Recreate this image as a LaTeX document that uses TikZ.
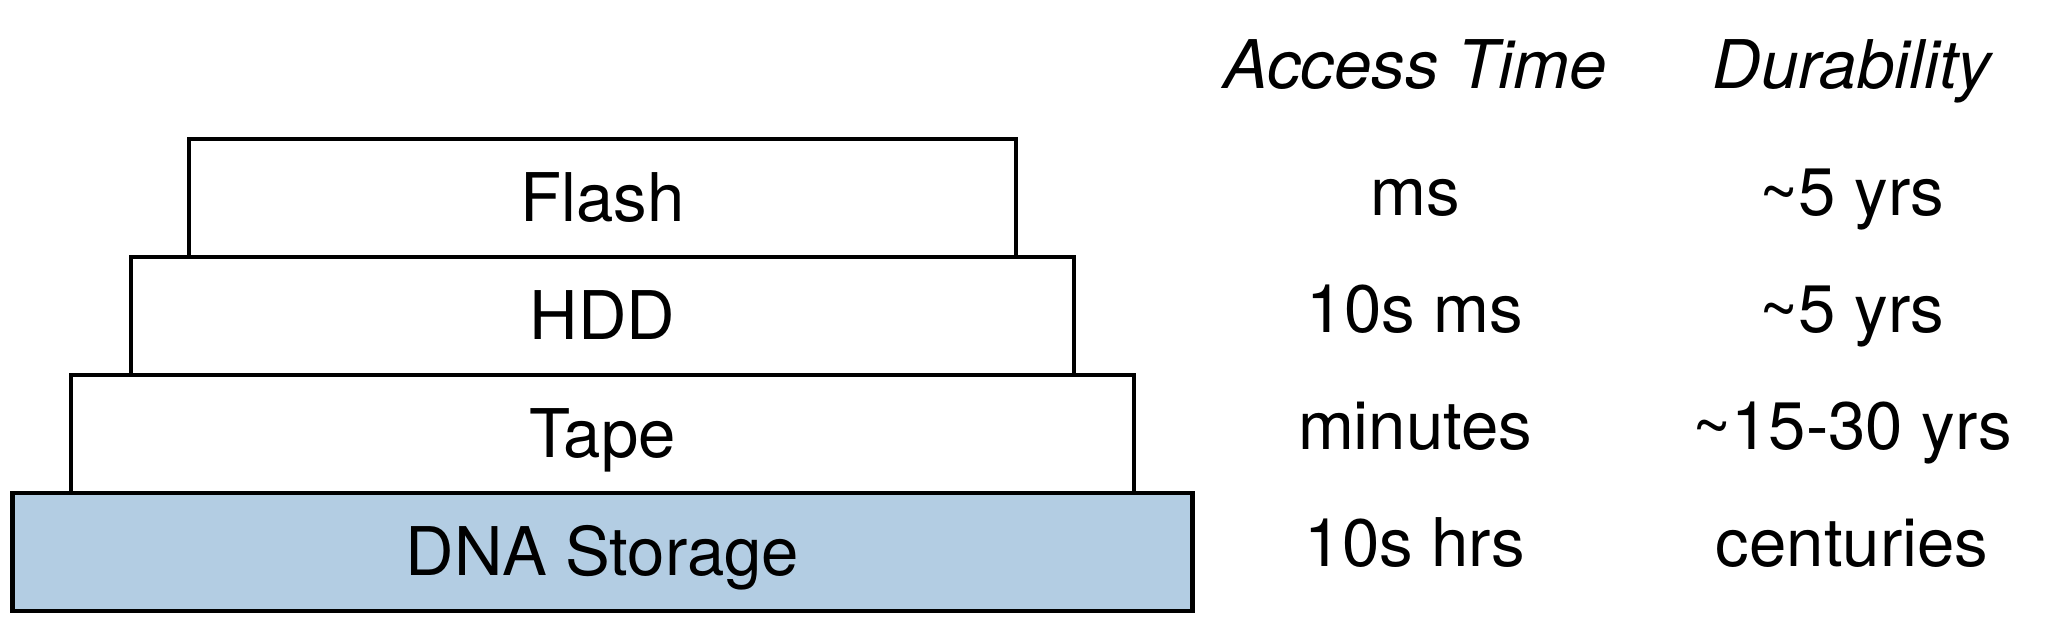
\documentclass[tikz,border=0pt]{standalone}
\usepackage{fontspec}
\setmainfont{TeX Gyre Heros}
\definecolor{dnablue}{RGB}{179,205,227}

\begin{document}
\begin{tikzpicture}[
    tier/.style={draw, line width=1.15pt, fill=white, minimum height=1.18cm,
                 inner sep=0pt, text height=0.48cm, text depth=0cm},
    val/.style={anchor=base, inner sep=0pt},
    head/.style={anchor=base, inner sep=0pt, font=\itshape}
]
    \useasboundingbox (0,0) rectangle (20.46,-6.21);
    \fontsize{19.1}{22}\selectfont

    \node[tier, minimum width=11.80cm, fill=dnablue] (dna) at (6.025, -5.52) {DNA Storage};
    \node[tier, minimum width=10.63cm] (tape) at (6.025, -4.34) {Tape};
    \node[tier, minimum width=9.43cm] (hdd) at (6.025, -3.16) {HDD};
    \node[tier, minimum width=8.27cm] (flash) at (6.025, -1.98) {Flash};

    \node[head] (acc) at (14.15, -0.89) {Access Time};
    \node[head] (dur) at (18.52, -0.89) {Durability};

    \node[val] (flashA) at (14.15, -2.16) {ms};
    \node[val] (flashD) at (18.52, -2.16) {\textasciitilde5 yrs};
    \node[val] (hddA) at (14.15, -3.33) {10s ms};
    \node[val] (hddD) at (18.52, -3.33) {\textasciitilde5 yrs};
    \node[val] (tapeA) at (14.15, -4.50) {minutes};
    \node[val] (tapeD) at (18.52, -4.50) {\textasciitilde15-30 yrs};
    \node[val] (dnaA) at (14.15, -5.67) {10s hrs};
    \node[val] (dnaD) at (18.52, -5.67) {centuries};
\end{tikzpicture}
\end{document}
